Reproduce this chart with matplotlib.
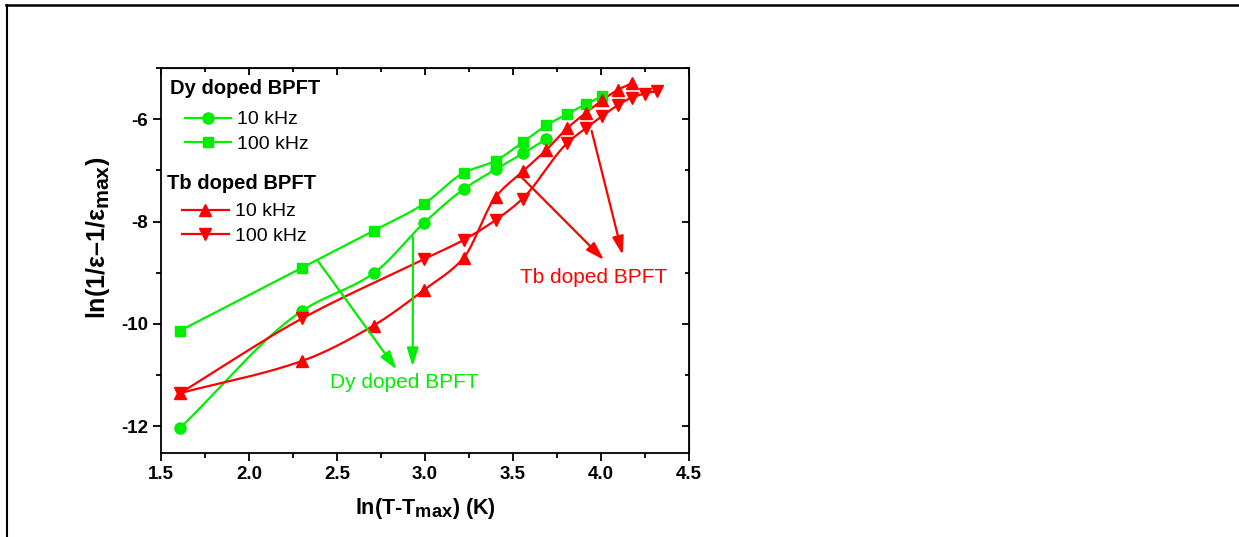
import matplotlib
matplotlib.use('Agg')
import matplotlib.pyplot as plt
import matplotlib._mathtext as mathtext_mod
import numpy as np
from matplotlib.lines import Line2D
from matplotlib.ticker import MultipleLocator

plt.rcParams['font.family'] = ['Liberation Sans', 'DejaVu Sans']
plt.rcParams['mathtext.fontset'] = 'custom'
plt.rcParams['mathtext.rm'] = 'Liberation Sans'
plt.rcParams['mathtext.bf'] = 'Liberation Sans:bold'
plt.rcParams['axes.unicode_minus'] = False
# the "max" subscripts in the original are almost full size
mathtext_mod.SHRINK_FACTOR = 0.85

GREEN = '#00ee00'
RED = '#ff0000'

# ln(T - Tmax) values and ln(1/eps - 1/eps_max) values
x_dy10 = [1.609, 2.303, 2.708, 2.996, 3.219, 3.401, 3.555, 3.689]
y_dy10 = [-12.03, -9.74, -9.01, -8.02, -7.37, -6.98, -6.67, -6.39]

x_dy100 = [1.609, 2.303, 2.708, 2.996, 3.219, 3.401, 3.555, 3.689, 3.807, 3.912, 4.007]
y_dy100 = [-10.13, -8.90, -8.18, -7.65, -7.05, -6.81, -6.45, -6.12, -5.90, -5.71, -5.55]

x_tb10 = [1.609, 2.303, 2.708, 2.996, 3.219, 3.401, 3.555, 3.689, 3.807, 3.912,
          4.007, 4.094, 4.174]
y_tb10 = [-11.35, -10.72, -10.03, -9.33, -8.71, -7.52, -7.02, -6.60, -6.18, -5.88,
          -5.63, -5.43, -5.30]

x_tb100 = [1.609, 2.303, 2.996, 3.219, 3.401, 3.555, 3.807, 3.912, 4.007, 4.094,
           4.174, 4.248, 4.317]
y_tb100 = [-11.35, -9.89, -8.73, -8.36, -7.97, -7.55, -6.47, -6.18, -5.94, -5.73,
           -5.58, -5.50, -5.45]

legend_labels = ['10 kHz', '100 kHz']


def smooth_line(x, y, n=400):
    """Monotone cubic (PCHIP) drawing line through the points."""
    x = np.asarray(x, float)
    y = np.asarray(y, float)
    k = len(x)
    h = np.diff(x)
    d = np.diff(y) / h
    m = np.zeros(k)
    m[0], m[-1] = d[0], d[-1]
    for i in range(1, k - 1):
        if d[i - 1] * d[i] > 0:
            w1 = 2 * h[i] + h[i - 1]
            w2 = h[i] + 2 * h[i - 1]
            m[i] = (w1 + w2) / (w1 / d[i - 1] + w2 / d[i])
    xs = np.linspace(x[0], x[-1], n)
    idx = np.clip(np.searchsorted(x, xs) - 1, 0, k - 2)
    hh = h[idx]
    t = (xs - x[idx]) / hh
    h00 = 2 * t ** 3 - 3 * t ** 2 + 1
    h10 = t ** 3 - 2 * t ** 2 + t
    h01 = -2 * t ** 3 + 3 * t ** 2
    h11 = t ** 3 - t ** 2
    ys = h00 * y[idx] + h10 * hh * m[idx] + h01 * y[idx + 1] + h11 * hh * m[idx + 1]
    return xs, ys


def draw_series(ax, x, y, color, marker, ms):
    xs, ys = smooth_line(x, y)
    ax.plot(xs, ys, color=color, lw=1.6, zorder=2)
    ax.plot(x, y, ls='none', marker=marker, ms=ms, color=color, zorder=3)


fig = plt.figure(figsize=(12.39, 5.37), dpi=100)
ax = fig.add_axes([0.1299, 0.1564, 0.4262, 0.717])

draw_series(ax, x_dy10, y_dy10, GREEN, 'o', 8)
draw_series(ax, x_dy100, y_dy100, GREEN, 's', 7)
draw_series(ax, x_tb10, y_tb10, RED, '^', 8.5)
draw_series(ax, x_tb100, y_tb100, RED, 'v', 8.5)

ax.set_xlim(1.5, 4.5)
ax.set_ylim(-12.52, -5.0)
ax.xaxis.set_major_locator(MultipleLocator(0.5))
ax.xaxis.set_minor_locator(MultipleLocator(0.25))
ax.yaxis.set_major_locator(MultipleLocator(2))
ax.yaxis.set_minor_locator(MultipleLocator(1))
ax.tick_params(which='major', direction='out', length=6, width=1.3,
               labelsize=13.5)
ax.tick_params(which='minor', direction='out', length=3.5, width=1.3)
for lab in ax.get_xticklabels() + ax.get_yticklabels():
    lab.set_fontweight('bold')
for sp in ax.spines.values():
    sp.set_linewidth(1.3)

top = ax.secondary_xaxis('top')
top.xaxis.set_major_locator(MultipleLocator(0.5))
top.xaxis.set_minor_locator(MultipleLocator(0.25))
top.tick_params(which='both', direction='in', labeltop=False, width=1.3)
top.tick_params(which='major', length=5)
top.tick_params(which='minor', length=3)
right = ax.secondary_yaxis('right')
right.yaxis.set_major_locator(MultipleLocator(2))
right.yaxis.set_minor_locator(MultipleLocator(1))
right.tick_params(which='both', direction='in', labelright=False, width=1.3)
right.tick_params(which='major', length=5)
right.tick_params(which='minor', length=3)

ax.set_xlabel(r'ln(T-T$_\mathbf{max}$) (K)', fontsize=15.5, fontweight='bold',
              labelpad=9)
ax.set_ylabel('ln(1/ε\u20131/ε$_\\mathbf{max}$)', fontsize=18,
              fontweight='bold')
ax.yaxis.set_label_coords(-0.092, 0.56)

# legends: bold group titles as text, entries as two small legends
dy_handles = [Line2D([], [], color=GREEN, marker='o', ms=8, lw=1.6),
              Line2D([], [], color=GREEN, marker='s', ms=7, lw=1.6)]
tb_handles = [Line2D([], [], color=RED, marker='^', ms=8.5, lw=1.6),
              Line2D([], [], color=RED, marker='v', ms=8.5, lw=1.6)]
leg_kw = dict(loc='upper left', frameon=False, fontsize=14, handlelength=2.4,
              labelspacing=0.34, handletextpad=0.3, borderpad=0,
              borderaxespad=0)
leg1 = ax.legend(dy_handles, legend_labels, bbox_to_anchor=(0.045, 0.889),
                 **leg_kw)
ax.add_artist(leg1)
ax.legend(tb_handles, legend_labels, bbox_to_anchor=(0.040, 0.650), **leg_kw)
ax.text(0.017, 0.948, 'Dy doped BPFT', transform=ax.transAxes, fontsize=14.5,
        fontweight='bold', ha='left', va='center')
ax.text(0.011, 0.701, 'Tb doped BPFT', transform=ax.transAxes, fontsize=14.5,
        fontweight='bold', ha='left', va='center')

# annotations
arrow_kw = dict(arrowstyle='-|>,head_length=0.55,head_width=0.17',
                lw=1.6, mutation_scale=20, shrinkA=0, shrinkB=0)
for (x0, y0), (x1, y1) in [((2.394, -8.78), (2.839, -10.89)),
                           ((2.932, -8.30), (2.930, -10.83))]:
    ax.annotate('', xy=(x1, y1), xytext=(x0, y0),
                arrowprops=dict(color=GREEN, **arrow_kw))
for (x0, y0), (x1, y1) in [((3.536, -7.09), (4.017, -8.75)),
                           ((3.947, -6.23), (4.123, -8.65))]:
    ax.annotate('', xy=(x1, y1), xytext=(x0, y0),
                arrowprops=dict(color=RED, **arrow_kw))
ax.text(2.88, -11.15, 'Dy doped BPFT', color=GREEN, fontsize=15,
        ha='center', va='center')
ax.text(3.96, -9.10, 'Tb doped BPFT', color=RED, fontsize=15,
        ha='center', va='center')

# partial outer frame (top and left edges)
fig.add_artist(Line2D([6 / 1239, 1238 / 1239], [1 - 5 / 537, 1 - 5 / 537],
                      transform=fig.transFigure, color='black', lw=1.8))
fig.add_artist(Line2D([7 / 1239, 7 / 1239], [1 - 5 / 537, 0],
                      transform=fig.transFigure, color='black', lw=1.5))

fig.savefig('out.png', dpi=100)
